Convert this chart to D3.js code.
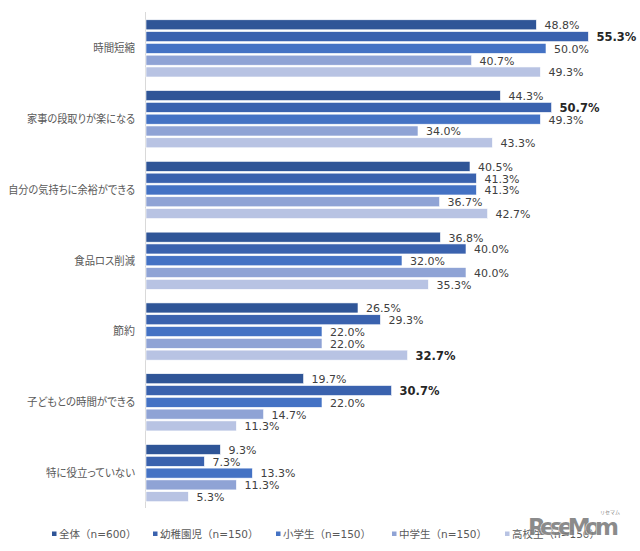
<!DOCTYPE html>
<html><head><meta charset="utf-8">
<script src="https://cdn.jsdelivr.net/npm/d3@7"></script>
<style>body{margin:0;background:#fff;}</style>
</head><body>
<script>
const categories = ["時間短縮","家事の段取りが楽になる","自分の気持ちに余裕ができる","食品ロス削減","節約","子どもとの時間ができる","特に役立っていない"];
const seriesNames = ["全体（n=600）","幼稚園児（n=150）","小学生（n=150）","中学生（n=150）","高校生（n=150）"];
const s全体 = [48.8,44.3,40.5,36.8,26.5,19.7,9.3];
const s幼稚園児 = [55.3,50.7,41.3,40.0,29.3,30.7,7.3];
const s小学生 = [50.0,49.3,41.3,32.0,22.0,22.0,13.3];
const s中学生 = [40.7,34.0,36.7,40.0,22.0,14.7,11.3];
const s高校生 = [49.3,43.3,42.7,35.3,32.7,11.3,5.3];
const boldLabels = [[0,1],[1,1],[4,4],[5,1]]; // [category, series]
const colors = ["#2F5597","#3A62AE","#4472C4","#8FA3D5","#B8C3E3"];

const seriesData = [s全体,s幼稚園児,s小学生,s中学生,s高校生];
const W=640,H=551;
const svg=d3.select("body").append("svg").attr("width",W).attr("height",H);

const x=d3.scaleLinear().domain([0,100]).range([146,946]);
const y=d3.scaleBand().domain(categories).range([13,508.5]).padding(0);
const yi=d3.scaleBand().domain(d3.range(5)).range([0,y.bandwidth()]).paddingInner(0.15).paddingOuter(0.575);

svg.append("line").attr("x1",145.5).attr("x2",145.5).attr("y1",12).attr("y2",508).attr("stroke","#d9d9d9");

categories.forEach((c,ci)=>{
  const g=svg.append("g").attr("transform",`translate(0,${y(c)})`);
  seriesData.forEach((arr,si)=>{
    const v=arr[ci];
    g.append("rect").attr("x",x(0)).attr("y",yi(si)).attr("width",x(v)-x(0)).attr("height",yi.bandwidth())
      .attr("fill",colors[si]).attr("stroke","#ffffff").attr("stroke-width",0.6);
    const bold=boldLabels.some(b=>b[0]===ci&&b[1]===si);
    g.append("text").attr("x",x(v)+8).attr("y",yi(si)+yi.bandwidth()/2).attr("dy","0.4em")
      .attr("font-family","DejaVu Sans, Verdana, sans-serif").attr("font-size",bold?"11.5px":"11px")
      .attr("font-weight",bold?"bold":"normal").attr("fill",bold?"#262626":"#404040").text(v.toFixed(1)+"%");
  });
  const t=svg.append("text").attr("x",135).attr("y",y(c)+y.bandwidth()/2).attr("dy","0.35em").attr("text-anchor","end")
    .attr("style","font-feature-settings:'palt'")
    .attr("font-family","'Noto Sans CJK JP', sans-serif").attr("font-size","11px").attr("fill","#595959").text(c);
  const len=t.node().getComputedTextLength();
  const target=Math.min(len, 4+c.length*9.45);
  if(len>target) t.attr("textLength",target).attr("lengthAdjust","spacingAndGlyphs");
});

const legX=[52,153,276,392,505];
seriesNames.forEach((n,i)=>{
  svg.append("rect").attr("x",legX[i]).attr("y",531.5).attr("width",4.5).attr("height",4.5).attr("fill",colors[i]);
  svg.append("text").attr("x",legX[i]+7).attr("y",534).attr("dy","0.35em")
    .attr("font-family","'DejaVu Sans', 'Noto Sans CJK JP', sans-serif").attr("font-size","10.5px").attr("fill","#595959").text(n);
});

svg.append("text").attr("x",528).attr("y",535).attr("font-family","'DejaVu Sans', sans-serif").attr("font-weight","bold")
  .attr("font-size","23px").attr("fill","#7f7f7f").attr("opacity",0.9).attr("stroke","#ffffff").attr("stroke-width",0.8)
  .attr("paint-order","stroke").attr("textLength",91).text("ReseMom");
svg.append("text").attr("x",610).attr("y",514).attr("font-family","'Noto Sans CJK JP', sans-serif")
  .attr("font-size","5px").attr("fill","#7f7f7f").attr("text-anchor","middle").text("リセマム");
</script>
</body></html>
